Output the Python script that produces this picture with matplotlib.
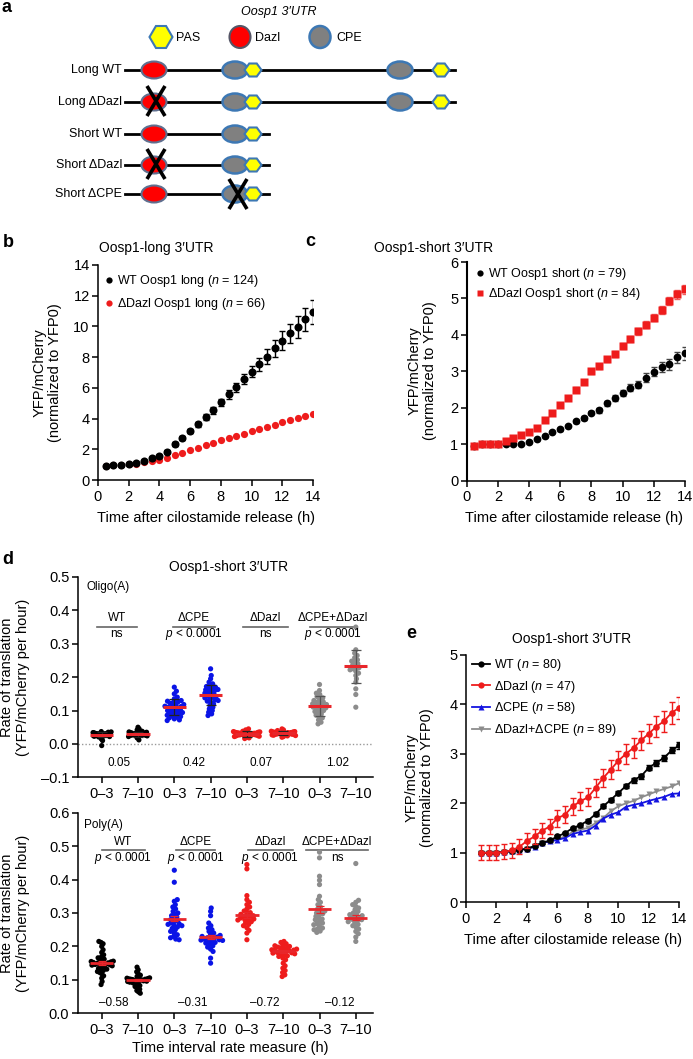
import numpy as np
import matplotlib
matplotlib.use('Agg')
import matplotlib.pyplot as plt
from matplotlib.patches import Ellipse, Polygon
from matplotlib.lines import Line2D

plt.rcParams['font.family'] = ['Liberation Sans', 'DejaVu Sans']
plt.rcParams['mathtext.fontset'] = 'custom'
plt.rcParams['mathtext.rm'] = 'Liberation Sans'
plt.rcParams['mathtext.it'] = 'Liberation Sans:italic'
plt.rcParams['axes.linewidth'] = 1.1
plt.rcParams['xtick.major.width'] = 1.1
plt.rcParams['ytick.major.width'] = 1.1
plt.rcParams['xtick.major.size'] = 4
plt.rcParams['ytick.major.size'] = 4
plt.rcParams['xtick.major.pad'] = 3
plt.rcParams['ytick.major.pad'] = 2
plt.rcParams['xtick.labelsize'] = 10.5
plt.rcParams['ytick.labelsize'] = 10.5

# ======================= DATA =======================
# ---- panel a : construct diagram ----
constructs = ['Long WT', 'Long ΔDazl', 'Short WT', 'Short ΔDazl', 'Short ΔCPE']
utr_length = [330, 330, 144, 144, 144]
dazl_site = [29, 29, 29, 29, 29]
cpe_sites = [[110, 275], [110, 275], [110], [110], [110]]
pas_sites = [[128, 316], [128, 316], [128], [128], [128]]
deleted = ['', 'Dazl', '', 'Dazl', 'CPE']

# ---- panel b : Oosp1-long ----
time_b = np.arange(0.5, 14.01, 0.5)
wt_long = [0.91, 0.97, 0.99, 1.02, 1.08, 1.24, 1.42, 1.58, 1.85, 2.34, 2.72, 3.19, 3.62, 4.12,
           4.55, 5.05, 5.57, 6.03, 6.55, 7.05, 7.55, 8.03, 8.57, 9.07, 9.54, 9.98, 10.48, 10.95]
wt_long_err = [0.05, 0.05, 0.05, 0.05, 0.05, 0.06, 0.07, 0.08, 0.10, 0.12, 0.13, 0.15, 0.17, 0.20,
               0.22, 0.25, 0.27, 0.30, 0.33, 0.37, 0.42, 0.48, 0.55, 0.60, 0.65, 0.72, 0.75, 0.80]
dazl_long = [0.92, 0.97, 0.99, 1.02, 1.06, 1.15, 1.22, 1.30, 1.45, 1.62, 1.78, 1.95, 2.10, 2.27,
             2.42, 2.60, 2.73, 2.88, 3.02, 3.18, 3.32, 3.47, 3.60, 3.75, 3.88, 4.03, 4.17, 4.30]

# ---- panel c : Oosp1-short ----
time_c = np.arange(0.5, 14.01, 0.5)
wt_short = [0.96, 1.01, 1.01, 1.02, 1.02, 1.02, 1.02, 1.05, 1.15, 1.23, 1.33, 1.41, 1.50, 1.63,
            1.72, 1.87, 1.93, 2.12, 2.28, 2.41, 2.55, 2.63, 2.83, 2.99, 3.11, 3.19, 3.38, 3.49]
wt_short_err = [0.02, 0.02, 0.02, 0.02, 0.02, 0.02, 0.02, 0.02, 0.03, 0.03, 0.03, 0.04, 0.04, 0.04,
                0.05, 0.05, 0.06, 0.07, 0.08, 0.08, 0.09, 0.10, 0.12, 0.13, 0.14, 0.15, 0.16, 0.17]
dazl_short = [0.95, 1.00, 1.01, 1.02, 1.08, 1.17, 1.26, 1.34, 1.45, 1.67, 1.87, 2.08, 2.28, 2.50,
              2.71, 3.00, 3.14, 3.33, 3.47, 3.69, 3.89, 4.10, 4.28, 4.47, 4.69, 4.93, 5.11, 5.25]
dazl_short_err = [0.02, 0.02, 0.02, 0.02, 0.03, 0.03, 0.03, 0.03, 0.04, 0.04, 0.05, 0.05, 0.05, 0.06,
                  0.06, 0.06, 0.07, 0.07, 0.08, 0.08, 0.09, 0.09, 0.10, 0.10, 0.11, 0.12, 0.12, 0.13]

# ---- panel d : rates of translation ----
interval_labels = ['0–3', '7–10', '0–3', '7–10', '0–3', '7–10', '0–3', '7–10']
group_names = ['WT', 'ΔCPE', 'ΔDazl', 'ΔCPE+ΔDazl']
group_colors = ['#000000', '#0a14e6', '#ee1c1c', '#8c8c8c']

oligo_wt_03 = [0.030, 0.028, 0.032, 0.025, 0.027, 0.035, 0.031, 0.022, 0.029, 0.033, 0.026, 0.030, 0.034,
               0.021, 0.028, 0.036, 0.024, 0.031, 0.027, 0.019, 0.033, 0.029, 0.015, 0.030, 0.026, 0.010,
               0.032, 0.028, -0.005, 0.037, 0.023, 0.030]
oligo_wt_710 = [0.028, 0.031, 0.025, 0.033, 0.030, 0.022, 0.035, 0.027, 0.040, 0.029, 0.018, 0.032, 0.026,
                0.045, 0.030, 0.024, 0.034, 0.028, 0.050, 0.031, 0.020, 0.036, 0.027, 0.029, 0.012, 0.033,
                0.038, 0.026, 0.030, 0.042]
oligo_cpe_03 = [0.170, 0.158, 0.150, 0.140, 0.135, 0.130, 0.128, 0.125, 0.122, 0.118, 0.115, 0.113, 0.110,
                0.108, 0.106, 0.104, 0.102, 0.100, 0.098, 0.096, 0.094, 0.092, 0.090, 0.088, 0.086, 0.084,
                0.082, 0.080, 0.078, 0.075, 0.072, 0.070, 0.112, 0.118, 0.126]
oligo_cpe_710 = [0.225, 0.205, 0.195, 0.185, 0.180, 0.175, 0.170, 0.168, 0.165, 0.162, 0.160, 0.158, 0.155,
                 0.152, 0.150, 0.148, 0.145, 0.142, 0.140, 0.138, 0.135, 0.132, 0.130, 0.128, 0.125, 0.120,
                 0.115, 0.110, 0.105, 0.100, 0.095, 0.090, 0.085, 0.163, 0.172]
oligo_dazl_03 = [0.045, 0.042, 0.040, 0.038, 0.036, 0.035, 0.034, 0.033, 0.032, 0.031, 0.030, 0.030, 0.029,
                 0.028, 0.028, 0.027, 0.026, 0.025, 0.024, 0.023, 0.022, 0.021, 0.020, 0.018, 0.016, 0.033,
                 0.031, 0.029, 0.027, 0.035, 0.037, 0.032]
oligo_dazl_710 = [0.045, 0.042, 0.040, 0.038, 0.037, 0.036, 0.035, 0.034, 0.033, 0.032, 0.032, 0.031, 0.030,
                  0.030, 0.029, 0.028, 0.027, 0.026, 0.025, 0.024, 0.022, 0.020, 0.034, 0.031, 0.029, 0.036,
                  0.033]
oligo_combo_03 = [0.178, 0.160, 0.152, 0.148, 0.142, 0.138, 0.135, 0.130, 0.126, 0.122, 0.120, 0.118, 0.115,
                  0.112, 0.110, 0.108, 0.105, 0.102, 0.100, 0.097, 0.094, 0.090, 0.086, 0.082, 0.078, 0.072,
                  0.065, 0.060, 0.125, 0.113]
oligo_combo_710 = [0.350, 0.282, 0.272, 0.265, 0.258, 0.252, 0.248, 0.245, 0.240, 0.236, 0.232, 0.228, 0.225,
                   0.222, 0.218, 0.212, 0.205, 0.195, 0.185, 0.165, 0.148, 0.110]
oligo_means = [0.028, 0.029, 0.111, 0.147, 0.030, 0.032, 0.114, 0.232]
oligo_sd = [0.008, 0.008, 0.025, 0.030, 0.008, 0.006, 0.030, 0.050]
oligo_pvals = ['ns', '$p$ < 0.0001', 'ns', '$p$ < 0.0001']
oligo_fold = ['0.05', '0.42', '0.07', '1.02']

poly_wt_03 = [0.215, 0.212, 0.208, 0.200, 0.190, 0.182, 0.175, 0.170, 0.166, 0.162, 0.160, 0.158, 0.156,
              0.154, 0.152, 0.150, 0.150, 0.148, 0.147, 0.146, 0.145, 0.144, 0.142, 0.140, 0.138, 0.136,
              0.134, 0.132, 0.130, 0.128, 0.125, 0.122, 0.118, 0.112, 0.105, 0.095, 0.086, 0.155, 0.151, 0.149]
poly_wt_710 = [0.138, 0.130, 0.124, 0.118, 0.114, 0.110, 0.108, 0.106, 0.105, 0.104, 0.103, 0.102, 0.101,
               0.100, 0.100, 0.099, 0.098, 0.097, 0.096, 0.095, 0.093, 0.091, 0.089, 0.086, 0.083, 0.080,
               0.076, 0.072, 0.068, 0.064, 0.060, 0.102, 0.099]
poly_cpe_03 = [0.428, 0.392, 0.340, 0.335, 0.325, 0.318, 0.312, 0.305, 0.300, 0.296, 0.292, 0.288, 0.284,
               0.280, 0.277, 0.274, 0.270, 0.266, 0.262, 0.258, 0.254, 0.250, 0.245, 0.240, 0.235, 0.230,
               0.226, 0.222, 0.220, 0.268, 0.262]
poly_cpe_710 = [0.315, 0.305, 0.292, 0.270, 0.262, 0.255, 0.250, 0.245, 0.240, 0.236, 0.233, 0.230, 0.228,
                0.226, 0.224, 0.222, 0.220, 0.218, 0.216, 0.214, 0.212, 0.210, 0.206, 0.202, 0.198, 0.192,
                0.185, 0.165, 0.150, 0.225, 0.219]
poly_dazl_03 = [0.445, 0.432, 0.352, 0.340, 0.332, 0.325, 0.318, 0.312, 0.306, 0.300, 0.296, 0.292, 0.290,
                0.288, 0.285, 0.282, 0.280, 0.277, 0.274, 0.270, 0.266, 0.262, 0.256, 0.248, 0.240, 0.220,
                0.287, 0.279, 0.301]
poly_dazl_710 = [0.215, 0.212, 0.208, 0.205, 0.202, 0.200, 0.198, 0.196, 0.194, 0.192, 0.190, 0.189, 0.188,
                 0.186, 0.185, 0.184, 0.182, 0.180, 0.178, 0.176, 0.174, 0.172, 0.170, 0.165, 0.160, 0.150,
                 0.142, 0.135, 0.128, 0.122, 0.115, 0.110, 0.195, 0.187, 0.181]
poly_combo_03 = [0.482, 0.465, 0.410, 0.398, 0.385, 0.350, 0.340, 0.332, 0.325, 0.318, 0.312, 0.306, 0.300,
                 0.295, 0.290, 0.285, 0.280, 0.275, 0.270, 0.265, 0.260, 0.255, 0.250, 0.246, 0.242, 0.305,
                 0.298, 0.282, 0.268, 0.252]
poly_combo_710 = [0.448, 0.338, 0.332, 0.325, 0.320, 0.315, 0.310, 0.305, 0.300, 0.296, 0.292, 0.289, 0.286,
                  0.283, 0.280, 0.277, 0.274, 0.270, 0.266, 0.262, 0.258, 0.252, 0.245, 0.238, 0.228, 0.215,
                  0.295, 0.287, 0.279]
poly_means = [0.150, 0.100, 0.283, 0.228, 0.294, 0.185, 0.311, 0.286]
poly_sem = [0.005, 0.003, 0.008, 0.006, 0.008, 0.005, 0.010, 0.008]
poly_pvals = ['$p$ < 0.0001', '$p$ < 0.0001', '$p$ < 0.0001', 'ns']
poly_fold = ['–0.58', '–0.31', '–0.72', '–0.12']

# ---- panel e : Oosp1-short, four constructs ----
time_e = np.arange(1.0, 14.01, 0.5)
wt_e = [1.00, 1.00, 1.00, 1.02, 1.03, 1.06, 1.08, 1.14, 1.20, 1.25, 1.33, 1.40, 1.50, 1.56,
        1.65, 1.78, 1.94, 2.07, 2.21, 2.35, 2.47, 2.55, 2.72, 2.82, 2.92, 3.07, 3.17]
wt_e_err = [0.03, 0.03, 0.03, 0.03, 0.03, 0.03, 0.03, 0.03, 0.03, 0.03, 0.03, 0.03, 0.03, 0.03,
            0.04, 0.04, 0.04, 0.04, 0.04, 0.05, 0.05, 0.05, 0.05, 0.06, 0.06, 0.06, 0.07]
dazl_e = [1.00, 1.00, 1.00, 1.02, 1.05, 1.12, 1.24, 1.33, 1.45, 1.53, 1.70, 1.77, 1.94, 2.04,
          2.12, 2.31, 2.51, 2.68, 2.86, 3.00, 3.12, 3.27, 3.41, 3.55, 3.66, 3.83, 3.93]
dazl_e_err = [0.15, 0.15, 0.15, 0.15, 0.15, 0.15, 0.15, 0.16, 0.16, 0.16, 0.17, 0.17, 0.17, 0.18,
              0.18, 0.18, 0.19, 0.19, 0.19, 0.20, 0.20, 0.20, 0.20, 0.21, 0.21, 0.22, 0.22]
cpe_e = [1.00, 1.00, 1.00, 1.02, 1.03, 1.06, 1.08, 1.12, 1.20, 1.23, 1.26, 1.30, 1.38, 1.42,
         1.45, 1.55, 1.69, 1.77, 1.82, 1.93, 1.97, 2.00, 2.05, 2.09, 2.13, 2.19, 2.20]
combo_e = [1.00, 1.00, 1.00, 1.02, 1.03, 1.06, 1.08, 1.13, 1.20, 1.24, 1.28, 1.33, 1.42, 1.47,
           1.50, 1.60, 1.70, 1.84, 1.94, 2.00, 2.05, 2.12, 2.18, 2.24, 2.29, 2.34, 2.41]

# ======================= FIGURE =======================
W, H = 693, 1059
fig = plt.figure(figsize=(W / 100, H / 100), dpi=100)


def fax(left, top, right, bottom):
    return fig.add_axes([left / W, 1 - bottom / H, (right - left) / W, (bottom - top) / H])


def ftext(x, y, s, **kw):
    fig.text(x / W, 1 - y / H, s, **kw)


def style(ax):
    for sp in ['top', 'right']:
        ax.spines[sp].set_visible(False)
    ax.tick_params(direction='out')


# ---------- panel a ----------
axa = fax(0, 0, W, 225)
axa.set_xlim(0, W)
axa.set_ylim(225, 0)
axa.axis('off')
x0 = 125
row_y = [70, 102, 134, 165, 194]
ell_w, ell_h = 25, 17
edge_blue = '#3d78b4'
fs_a = 9


def hexagon(cx, cy, w, h, z=4):
    k = w * 0.28
    pts = [(cx - w / 2, cy), (cx - w / 2 + k, cy - h / 2), (cx + w / 2 - k, cy - h / 2),
           (cx + w / 2, cy), (cx + w / 2 - k, cy + h / 2), (cx - w / 2 + k, cy + h / 2)]
    axa.add_patch(Polygon(pts, closed=True, facecolor='#ffff00', edgecolor=edge_blue, lw=1.5, zorder=z))


def cross(cx, cy):
    axa.plot([cx - 9, cx + 9], [cy - 15, cy + 15], color='black', lw=2.6, zorder=6, solid_capstyle='butt')
    axa.plot([cx + 9, cx - 9], [cy - 15, cy + 15], color='black', lw=2.6, zorder=6, solid_capstyle='butt')


for i, name in enumerate(constructs):
    y = row_y[i]
    axa.plot([x0, x0 + utr_length[i]], [y, y], color='black', lw=2.0, zorder=1)
    axa.text(x0 - 3, y, name, ha='right', va='center', fontsize=fs_a)
    axa.add_patch(Ellipse((x0 + dazl_site[i], y), ell_w, ell_h, facecolor='#ff0000',
                          edgecolor='#5f6f8f', lw=1.5, zorder=3))
    for c in cpe_sites[i]:
        axa.add_patch(Ellipse((x0 + c, y), ell_w, ell_h, facecolor='#808080',
                              edgecolor=edge_blue, lw=1.8, zorder=3))
    for p in pas_sites[i]:
        hexagon(x0 + p, y, 17, 13)
    if deleted[i] == 'Dazl':
        cross(x0 + dazl_site[i] + 2, y - 1)
    elif deleted[i] == 'CPE':
        cross(x0 + cpe_sites[i][0] + 3, y)

axa.text(279, 12, "Oosp1 3′UTR", ha='center', va='center', fontsize=fs_a, style='italic')
hexagon(161, 37, 23, 22)
axa.text(176, 38, 'PAS', ha='left', va='center', fontsize=fs_a)
axa.add_patch(Ellipse((240, 37), 21, 22, facecolor='#ff0000', edgecolor='#555566', lw=1.5, zorder=3))
axa.text(255, 38, 'Dazl', ha='left', va='center', fontsize=fs_a)
axa.add_patch(Ellipse((320, 37), 21, 22, facecolor='#808080', edgecolor=edge_blue, lw=1.8, zorder=3))
axa.text(336, 38, 'CPE', ha='left', va='center', fontsize=fs_a)

# ---------- panel b ----------
axb = fax(98, 265, 313, 480)
style(axb)
axb.plot(time_b, dazl_long, 'o', color='#ee1c1c', ms=5.2, mec='none', zorder=2)
axb.errorbar(time_b, wt_long, yerr=wt_long_err, fmt='o', color='black', ms=5.8, mec='none',
             elinewidth=1.0, capsize=2.5, capthick=1.0, zorder=3)
axb.set_xlim(0, 14)
axb.set_ylim(0, 14)
axb.set_xticks(np.arange(0, 15, 2))
axb.set_yticks(np.arange(0, 15, 2))
hb = [Line2D([], [], ls='none', marker='o', color='black', ms=4.5, mec='none'),
      Line2D([], [], ls='none', marker='o', color='#ee1c1c', ms=4.5, mec='none')]
axb.legend(hb, ['WT Oosp1 long ($n$ = 124)', 'ΔDazl Oosp1 long ($n$ = 66)'], loc='upper left',
           bbox_to_anchor=(105 / W, 1 - 273 / H), bbox_transform=fig.transFigure, frameon=False,
           fontsize=9, handlelength=0.6, handletextpad=0.35, borderaxespad=0, borderpad=0,
           labelspacing=0.6)

# ---------- panel c ----------
axc = fax(466.7, 262, 685, 480.7)
style(axc)
axc.errorbar(time_c, wt_short, yerr=wt_short_err, fmt='o', color='black', ecolor='#444444', ms=5.6,
             mec='none', elinewidth=1.0, capsize=2.5, capthick=1.0, zorder=2)
axc.errorbar(time_c, dazl_short, yerr=dazl_short_err, fmt='s', color='#ee1c1c', ecolor='#f06060', ms=5.4,
             mec='none', elinewidth=1.0, capsize=2.5, capthick=1.0, zorder=3)
axc.set_xlim(0, 14)
axc.set_ylim(0, 6)
axc.set_xticks(np.arange(0, 15, 2))
axc.set_yticks(np.arange(0, 7, 1))
axc.spines['left'].set_linewidth(1.5)
hc = [Line2D([], [], ls='none', marker='o', color='black', ms=4.5, mec='none'),
      Line2D([], [], ls='none', marker='s', color='#ee1c1c', ms=4.5, mec='none')]
axc.legend(hc, ['WT Oosp1 short ($n$ = 79)', 'ΔDazl Oosp1 short ($n$ = 84)'], loc='upper left',
           bbox_to_anchor=(476 / W, 1 - 266 / H), bbox_transform=fig.transFigure, frameon=False,
           fontsize=9, handlelength=0.6, handletextpad=0.35, borderaxespad=0, borderpad=0,
           labelspacing=0.35)

# ---------- panel d ----------
def swarm(vals, ypx, xpx, d, max_half):
    vals = np.asarray(vals, dtype=float)
    ys = vals * ypx
    order = np.argsort(np.abs(vals - np.median(vals)), kind='stable')
    px_list, py_list = [], []
    xs = np.zeros(len(vals))
    for i in order:
        y = ys[i]
        cands = [0.0]
        for a, b in zip(px_list, py_list):
            dy = abs(y - b)
            if dy < d:
                dx = np.sqrt(d * d - dy * dy)
                cands += [a + dx, a - dx]
        cands.sort(key=abs)
        for c in cands:
            if all((c - a) ** 2 + (y - b) ** 2 >= d * d - 1e-6 for a, b in zip(px_list, py_list)):
                xs[i] = c
                break
        px_list.append(xs[i])
        py_list.append(y)
    xs = xs / xpx
    m = np.max(np.abs(xs))
    if m > max_half:
        xs = xs * (max_half / m)
    return xs


cat_px = 36.3
d_left, d_right = 77.7, 372.5
xlim_d = ((d_left - 101.7) / cat_px, (d_right - 101.7) / cat_px)
positions = np.arange(8)

oligo_sets = [oligo_wt_03, oligo_wt_710, oligo_cpe_03, oligo_cpe_710,
              oligo_dazl_03, oligo_dazl_710, oligo_combo_03, oligo_combo_710]
poly_sets = [poly_wt_03, poly_wt_710, poly_cpe_03, poly_cpe_710,
             poly_dazl_03, poly_dazl_710, poly_combo_03, poly_combo_710]
oligo_halfwidth = [0.26, 0.26, 0.3, 0.34, 0.37, 0.34, 0.3, 0.25]
poly_halfwidth = [0.32, 0.32, 0.3, 0.33, 0.3, 0.37, 0.3, 0.32]

# top (Oligo(A))
axd1 = fax(d_left, 577, d_right, 777.3)
style(axd1)
ypx1 = 200.3 / 0.6
for k, vals in enumerate(oligo_sets):
    col = group_colors[k // 2]
    off = swarm(vals, ypx1, cat_px, 3.4, oligo_halfwidth[k])
    axd1.scatter(positions[k] + off, vals, s=14, color=col, edgecolors='none', zorder=2)
    ecol = '#222222' if k // 2 != 3 else '#555555'
    axd1.errorbar(positions[k], oligo_means[k], yerr=oligo_sd[k], fmt='none', ecolor=ecol,
                  elinewidth=0.9, capsize=3.5, capthick=0.9, zorder=3)
    axd1.plot([positions[k] - 0.32, positions[k] + 0.32], [oligo_means[k]] * 2, color='#e8262b',
              lw=2.2, zorder=4, solid_capstyle='butt')
axd1.axhline(0, color='#999999', lw=1.0, ls=(0, (1, 1.5)), zorder=1)
axd1.set_xlim(*xlim_d)
axd1.set_ylim(-0.1, 0.5)
axd1.set_yticks([-0.1, 0.0, 0.1, 0.2, 0.3, 0.4, 0.5])
axd1.set_yticklabels(['–0.1', '0.0', '0.1', '0.2', '0.3', '0.4', '0.5'])
axd1.set_xticks(positions)
axd1.set_xticklabels(interval_labels)
axd1.text(0.03, 0.95, 'Oligo(A)', transform=axd1.transAxes, fontsize=8.5, ha='left', va='center')
oligo_line_spans = [(-0.14, 0.96), (1.97, 3.12), (3.9, 5.14), (5.74, 7.02)]
oligo_fold_x = [0.48, 2.55, 4.38, 6.5]
for g in range(4):
    a, b = oligo_line_spans[g]
    axd1.plot([a, b], [0.351, 0.351], color='#666666', lw=1.2, zorder=1)
    axd1.text((a + b) / 2, 0.378, group_names[g], ha='center', va='center', fontsize=8.5)
    axd1.text((a + b) / 2, 0.328, oligo_pvals[g], ha='center', va='center', fontsize=8.5)
    axd1.text(oligo_fold_x[g], -0.058, oligo_fold[g], ha='center', va='center', fontsize=8.5)

# bottom (Poly(A))
axd2 = fax(d_left, 812.7, d_right, 1013.3)
style(axd2)
ypx2 = 200.6 / 0.6
for k, vals in enumerate(poly_sets):
    col = group_colors[k // 2]
    off = swarm(vals, ypx2, cat_px, 3.4, poly_halfwidth[k])
    axd2.scatter(positions[k] + off, vals, s=14, color=col, edgecolors='none', zorder=2)
    axd2.errorbar(positions[k], poly_means[k], yerr=poly_sem[k], fmt='none', ecolor='#e8262b',
                  elinewidth=0.9, capsize=3, capthick=0.9, zorder=3)
    axd2.plot([positions[k] - 0.32, positions[k] + 0.32], [poly_means[k]] * 2, color='#e8262b',
              lw=2.0, zorder=4, solid_capstyle='butt')
axd2.set_xlim(*xlim_d)
axd2.set_ylim(0, 0.6)
axd2.set_yticks([0.0, 0.1, 0.2, 0.3, 0.4, 0.5, 0.6])
axd2.set_yticklabels(['0.0', '0.1', '0.2', '0.3', '0.4', '0.5', '0.6'])
axd2.set_xticks(positions)
axd2.set_xticklabels(interval_labels)
axd2.text(0.02, 0.94, 'Poly(A)', transform=axd2.transAxes, fontsize=8.5, ha='left', va='center')
poly_line_spans = [(0.0, 1.19), (2.04, 3.12), (4.03, 5.26), (5.63, 7.34)]
poly_fold_x = [0.33, 2.5, 4.5, 6.57]
for g in range(4):
    a, b = poly_line_spans[g]
    axd2.plot([a, b], [0.489, 0.489], color='#666666', lw=1.2, zorder=1)
    axd2.text((a + b) / 2, 0.512, group_names[g], ha='center', va='center', fontsize=8.5)
    axd2.text((a + b) / 2, 0.466, poly_pvals[g], ha='center', va='center', fontsize=8.5)
    axd2.text(poly_fold_x[g], 0.03, poly_fold[g], ha='center', va='center', fontsize=8.5)

# ---------- panel e ----------
axe = fax(466, 654.8, 679.3, 902.3)
style(axe)
axe.plot(time_e, combo_e, '-v', color='#8c8c8c', ms=4.5, mec='none', lw=1.3, zorder=2)
axe.plot(time_e, cpe_e, '-^', color='#1414e0', ms=4.5, mec='none', lw=1.3, zorder=3)
axe.errorbar(time_e, wt_e, yerr=wt_e_err, fmt='-o', color='black', ms=4.8, mec='none', lw=1.3,
             elinewidth=1.0, capsize=2.2, capthick=1.0, zorder=4)
axe.errorbar(time_e, dazl_e, yerr=dazl_e_err, fmt='-o', color='#ee1c1c', ms=4.8, mec='none', lw=1.3,
             elinewidth=1.0, capsize=2.5, capthick=1.0, zorder=5)
axe.set_xlim(0, 14)
axe.set_ylim(0, 5)
axe.set_xticks(np.arange(0, 15, 2))
axe.set_yticks(np.arange(0, 6, 1))
leg_handles = [Line2D([], [], color='black', marker='o', ms=4.5, mec='none', lw=1.3),
               Line2D([], [], color='#ee1c1c', marker='o', ms=4.5, mec='none', lw=1.3),
               Line2D([], [], color='#1414e0', marker='^', ms=4.5, mec='none', lw=1.3),
               Line2D([], [], color='#8c8c8c', marker='v', ms=4.5, mec='none', lw=1.3)]
leg_labels = ['WT ($n$ = 80)', 'ΔDazl ($n$ = 47)', 'ΔCPE ($n$ = 58)', 'ΔDazl+ΔCPE ($n$ = 89)']
axe.legend(leg_handles, leg_labels, loc='upper left', bbox_to_anchor=(472 / W, 1 - 657 / H),
           bbox_transform=fig.transFigure, frameon=False, fontsize=9, handlelength=1.4,
           handletextpad=0.4, borderaxespad=0, borderpad=0, labelspacing=0.45)

# ---------- texts: titles, labels ----------
ftext(156, 248, 'Oosp1-long 3′UTR', ha='center', va='center', fontsize=10)
ftext(434, 248, 'Oosp1-short 3′UTR', ha='center', va='center', fontsize=10)
ftext(229, 567, 'Oosp1-short 3′UTR', ha='center', va='center', fontsize=10)
ftext(572, 639, 'Oosp1-short 3′UTR', ha='center', va='center', fontsize=10)

ylab = 'YFP/mCherry\n(normalized to YFP0)'
ftext(47, 373, ylab, ha='center', va='center', rotation=90, fontsize=10.5, linespacing=1.15)
ftext(422, 371, ylab, ha='center', va='center', rotation=90, fontsize=10.5, linespacing=1.15)
ftext(419, 778, ylab, ha='center', va='center', rotation=90, fontsize=10.5, linespacing=1.15)
rlab = 'Rate of translation\n(YFP/mCherry per hour)'
ftext(15, 677, rlab, ha='center', va='center', rotation=90, fontsize=10.5, linespacing=1.15)
ftext(15, 913, rlab, ha='center', va='center', rotation=90, fontsize=10.5, linespacing=1.15)

xl = 'Time after cilostamide release (h)'
ftext(206, 518, xl, ha='center', va='center', fontsize=10.5)
ftext(574, 518, xl, ha='center', va='center', fontsize=10.5)
ftext(573, 940, xl, ha='center', va='center', fontsize=10.5)
ftext(230, 1048, 'Time interval rate measure (h)', ha='center', va='center', fontsize=10.5)

for lab, x, y in [('a', 6, 8), ('b', 8, 243), ('c', 310, 241), ('d', 8, 560), ('e', 411, 633)]:
    ftext(x, y, lab, ha='center', va='center', fontsize=13, fontweight='bold')

fig.savefig('out.png', dpi=100)
